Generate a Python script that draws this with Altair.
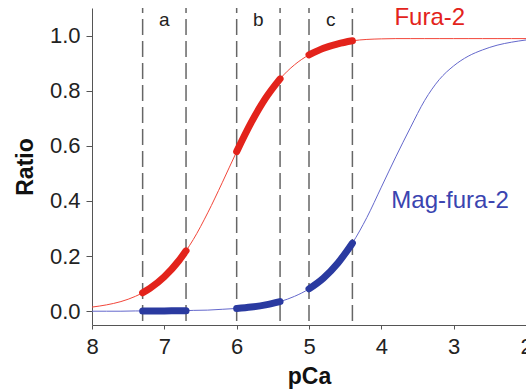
import altair as alt
import pandas as pd

# pCa grid
pca = [8.0, 7.8, 7.6, 7.4, 7.3, 7.2, 7.0, 6.8, 6.7, 6.6, 6.4, 6.2, 6.0, 5.8, 5.6,
       5.4, 5.2, 5.0, 4.8, 4.6, 4.4, 4.2, 4.0, 3.8, 3.6, 3.4, 3.2, 3.0, 2.8, 2.6,
       2.4, 2.2, 2.0]
fura2 = [0.015, 0.023, 0.035, 0.054, 0.067, 0.083, 0.125, 0.183, 0.219, 0.260,
         0.357, 0.466, 0.579, 0.684, 0.773, 0.843, 0.894, 0.930, 0.954, 0.970,
         0.981, 0.986, 0.988, 0.989, 0.989, 0.989, 0.989, 0.989, 0.989, 0.989,
         0.989, 0.989, 0.989]
magfura2 = [0.000, 0.000, 0.000, 0.001, 0.001, 0.001, 0.001, 0.002, 0.002, 0.003,
            0.004, 0.007, 0.010, 0.015, 0.023, 0.035, 0.054, 0.081, 0.120, 0.175,
            0.247, 0.340, 0.450, 0.560, 0.665, 0.765, 0.840, 0.890, 0.925, 0.948,
            0.965, 0.976, 0.984]

# measurement windows (a, b, c)
win_names = ["a", "b", "c"]
win_lo = [7.3, 6.0, 5.0]
win_hi = [6.7, 5.4, 4.4]
win_label_x = [7.0, 5.7, 4.7]
win_label_y = [1.035, 1.035, 1.035]

dye_names = ["Fura-2", "Mag-fura-2"]
dye_label_x = [3.33, 3.05]
dye_label_y = [1.037, 0.375]

RED = "#e3231b"
RED_THIN = "#f2463a"
BLUE = "#2a3aa0"
BLUE_THIN = "#6468cc"

curve = pd.DataFrame({"pCa": pca, "Fura-2": fura2, "Mag-fura-2": magfura2})

def thick(col):
    rows = []
    for n, lo, hi in zip(win_names, win_lo, win_hi):
        for p, v in zip(pca, curve[col]):
            if hi - 1e-9 <= p <= lo + 1e-9:
                rows.append({"pCa": p, "ratio": v, "seg": n})
    return pd.DataFrame(rows)

bounds = pd.DataFrame({"pCa": win_lo + win_hi})
wlab = pd.DataFrame({"pCa": win_label_x, "ratio": win_label_y, "t": win_names})
dlab = pd.DataFrame({"pCa": dye_label_x, "ratio": dye_label_y, "t": dye_names})

xscale = alt.Scale(domain=[8, 2], nice=False, zero=False)
yscale = alt.Scale(domain=[-0.05, 1.1], nice=False, zero=False)

xaxis = alt.Axis(values=[8, 7, 6, 5, 4, 3, 2], format="d", title="pCa",
                 labelFlush=False, tickSize=4, labelPadding=7, labelFontSize=22,
                 titleFontSize=23, titleFontWeight="bold", titleBaseline="alphabetic",
                 titleY=58, titleX=217, titleAlign="center")
yaxis = alt.Axis(values=[0, 0.2, 0.4, 0.6, 0.8, 1.0], format=".1f", title="Ratio",
                 labelFlush=False, tickSize=6, labelPadding=6, labelFontSize=22,
                 titleFontSize=23, titleFontWeight="bold", titleBaseline="alphabetic",
                 titleAngle=270, titleX=-60, titleY=158.5, titleAlign="center")

rules = alt.Chart(bounds).mark_rule(color="#666666", strokeWidth=1.5,
                                    strokeDash=[16, 6], strokeDashOffset=11).encode(
    x=alt.X("pCa:Q", scale=xscale, axis=xaxis))

def thin(col, color):
    return alt.Chart(curve).mark_line(color=color, strokeWidth=1,
                                      interpolate="monotone").encode(
        x=alt.X("pCa:Q", scale=xscale, axis=xaxis),
        y=alt.Y(f"{col}:Q", scale=yscale, axis=yaxis))

def thk(col, color):
    return alt.Chart(thick(col)).mark_line(color=color, strokeWidth=7,
                                           strokeCap="round",
                                           interpolate="monotone").encode(
        x=alt.X("pCa:Q", scale=xscale, axis=xaxis),
        y=alt.Y("ratio:Q", scale=yscale, axis=yaxis),
        detail="seg:N")

wtext = alt.Chart(wlab).mark_text(fontSize=19, color="#222222", align="center",
                                  baseline="alphabetic").encode(
    x=alt.X("pCa:Q", scale=xscale), y=alt.Y("ratio:Q", scale=yscale), text="t:N")

dtext = alt.Chart(dlab).mark_text(fontSize=24, align="center",
                                  baseline="alphabetic").encode(
    x=alt.X("pCa:Q", scale=xscale), y=alt.Y("ratio:Q", scale=yscale), text="t:N",
    color=alt.Color("t:N", scale=alt.Scale(domain=dye_names, range=[RED, "#3a44b0"]),
                    legend=None))

chart = alt.layer(
    rules,
    thin("Fura-2", RED_THIN),
    thin("Mag-fura-2", BLUE_THIN),
    thk("Fura-2", RED),
    thk("Mag-fura-2", BLUE),
    wtext,
    dtext,
).properties(
    width=434, height=317,
    padding={"left": 92, "top": 8, "right": 0, "bottom": 67},
    autosize=alt.AutoSizeParams(type="none"),
).configure(
    font="Liberation Sans",
).configure_view(stroke=None).configure_axis(
    grid=False, domainColor="#555555", tickColor="#555555", labelColor="#222222",
    titleColor="#111111", labelFont="Liberation Sans", titleFont="Liberation Sans",
)

chart.save("out.html", embed_options={"renderer": "svg", "actions": False})
